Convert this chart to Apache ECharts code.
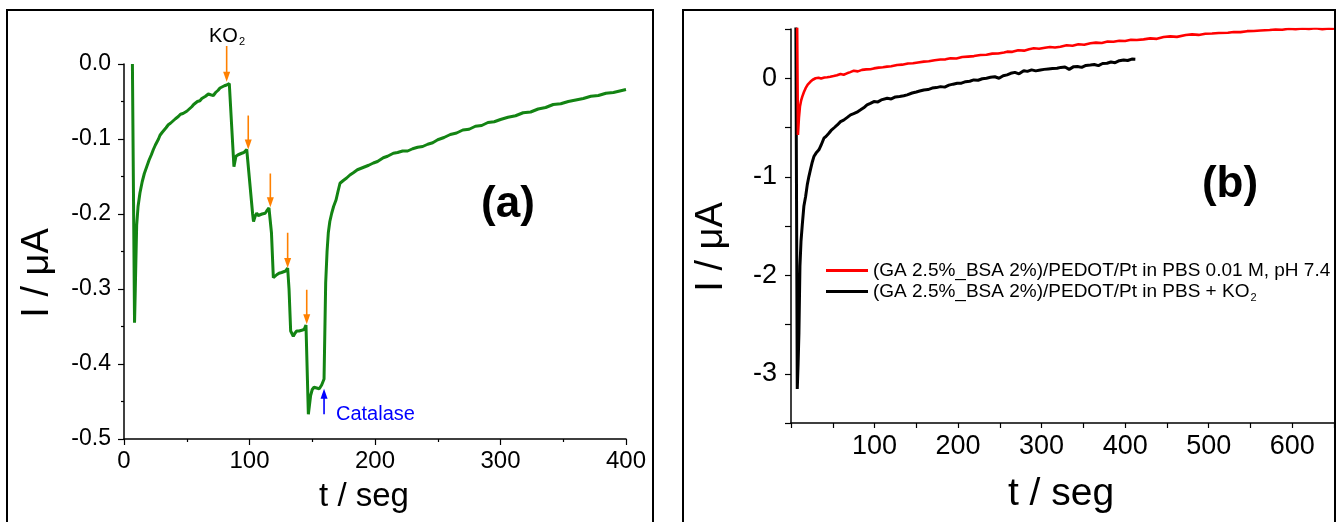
<!DOCTYPE html>
<html>
<head>
<meta charset="utf-8">
<script src="https://cdn.jsdelivr.net/npm/echarts@6/dist/echarts.min.js"></script>
<style>
html,body{margin:0;padding:0;background:#fff;}
#c{width:1337px;height:522px;}
</style>
</head>
<body>
<div id="c"></div>
<script>
// ---------- Panel (a) data ----------
const tA = [6.7, 8.4, 9.0, 9.5, 10.1, 11.2, 12.7, 14.5, 16.2, 18.1, 20, 21.8, 23.4, 25, 26, 27.5, 28.7, 30.5, 32, 33.5, 35.3, 37, 39, 41, 43.3, 45, 47, 48.5, 50, 52, 54, 55.5, 56.6, 58.5, 60.5, 62, 63.2, 65, 67.2, 69, 71.2, 73, 75, 76.5, 78, 80, 81.8, 83.9,
  87.6, 89.2, 91, 93.8, 95.5, 97.8, 99,
  102.5, 103.2, 104.5, 105.7, 107, 108.4, 110, 111, 112.5, 113.7, 115.5, 116.5,
  117.5, 119, 120.5, 121.7, 123.5, 125.6, 127, 128.8, 130.4,
  131.5, 132.8, 134.9, 136.2, 137.6, 139.5, 141.6, 143.5, 145,
  146.9, 148.7, 150, 151.4, 153.5, 155.6, 157.5, 159.4,
  160.7, 161.8, 162.8, 164, 165.5, 167, 169, 170.5, 172.1, 175, 177.4, 180, 182.7, 186, 189, 192, 195, 198.7, 202, 206.6, 210, 214.6, 218, 222, 226, 230, 234, 238, 242, 246, 250, 255, 260, 265, 270, 275, 280, 285, 290, 295, 300, 306, 312, 318, 324, 330, 336, 342, 348, 354, 360, 366, 372, 378, 384, 390, 395, 400];
const iA = [0.0, -0.345, -0.30, -0.26, -0.215, -0.190, -0.172, -0.157, -0.146, -0.137, -0.128, -0.121, -0.114, -0.108, -0.106, -0.100, -0.095, -0.091, -0.089, -0.085, -0.081, -0.079, -0.076, -0.073, -0.070, -0.067, -0.066, -0.064, -0.063, -0.060, -0.057, -0.054, -0.052, -0.050, -0.049, -0.046, -0.046, -0.043, -0.040, -0.041, -0.042, -0.038, -0.035, -0.032, -0.031, -0.029, -0.028, -0.026,
  -0.137, -0.123, -0.121, -0.119, -0.118, -0.114, -0.112,
  -0.200, -0.210, -0.203, -0.199, -0.202, -0.203, -0.200, -0.198, -0.199, -0.196, -0.192, -0.191,
  -0.225, -0.285, -0.283, -0.281, -0.279, -0.278, -0.279, -0.276, -0.272,
  -0.300, -0.356, -0.363, -0.359, -0.356, -0.356, -0.355, -0.354, -0.348,
  -0.467, -0.442, -0.434, -0.431, -0.432, -0.433, -0.428, -0.420,
  -0.292, -0.250, -0.225, -0.210, -0.199, -0.190, -0.181, -0.170, -0.159, -0.155, -0.152, -0.148, -0.145, -0.141, -0.139, -0.137, -0.135, -0.132, -0.130, -0.125, -0.123, -0.119, -0.118, -0.116, -0.116, -0.113, -0.111, -0.110, -0.107, -0.105, -0.101, -0.098, -0.094, -0.092, -0.088, -0.087, -0.083, -0.082, -0.078, -0.077, -0.074, -0.071, -0.069, -0.065, -0.064, -0.060, -0.058, -0.054, -0.053, -0.050, -0.048, -0.046, -0.043, -0.042, -0.039, -0.038, -0.036, -0.034];

// orange KO2 addition arrows
const arrowT    = [81.8, 99, 116.6, 130.4, 145.6];
const arrowFrom = [0.024, -0.0687, -0.146, -0.225, -0.301];
const arrowTo   = [-0.0235, -0.114, -0.191, -0.272, -0.347];
// blue catalase arrow
const catT = [159.4], catFrom = [-0.467], catTo = [-0.433];

const xTicksA = {min: 0, max: 400, interval: 100};
const yTicksA = {min: -0.5, max: 0, interval: 0.1};

// ---------- Panel (b) data ----------
const tR = [7.3, 8.3, 9.5, 10.7, 12, 13.5, 15.5, 17.5, 20, 23.4, 26, 29.4, 33, 36, 40, 43.4, 47, 51, 55, 59.3, 63, 67, 71, 75.2, 80, 85, 90, 95, 99.2, 105, 110, 115, 120, 127, 133, 140, 146, 152, 159, 165, 172, 179, 185, 191, 198, 205, 212, 219, 226.8, 234, 241, 248, 255, 258.7, 265, 272, 279, 285, 290.6, 297, 304, 310, 316, 322.5, 330, 337, 344, 351, 358.4, 365, 372, 379, 386, 393, 400, 407, 414, 422, 430, 438, 446, 454, 462, 472.6, 480, 488, 496, 504, 512, 523, 530, 538, 546, 554, 562, 573, 580, 588, 596, 604, 612, 620, 628, 636, 644, 650];
const iR = [0.6, -0.575, -0.40, -0.288, -0.23, -0.187, -0.14, -0.101, -0.065, -0.034, -0.015, 0.0, 0.005, -0.002, 0.008, 0.01, 0.015, 0.022, 0.03, 0.044, 0.035, 0.05, 0.062, 0.077, 0.07, 0.085, 0.09, 0.092, 0.10, 0.108, 0.112, 0.118, 0.122, 0.135, 0.138, 0.15, 0.152, 0.16, 0.169, 0.172, 0.183, 0.19, 0.192, 0.203, 0.2, 0.215, 0.22, 0.225, 0.236, 0.238, 0.25, 0.252, 0.262, 0.27, 0.268, 0.285, 0.28, 0.295, 0.304, 0.3, 0.31, 0.318, 0.312, 0.32, 0.335, 0.33, 0.345, 0.34, 0.355, 0.362, 0.358, 0.372, 0.371, 0.38, 0.378, 0.39, 0.388, 0.395, 0.405, 0.4, 0.418, 0.425, 0.42, 0.439, 0.445, 0.44, 0.452, 0.455, 0.46, 0.462, 0.47, 0.468, 0.478, 0.48, 0.485, 0.49, 0.495, 0.492, 0.503, 0.498, 0.505, 0.501, 0.508, 0.499, 0.506, 0.502];

const tK = [5.8, 7.5, 8.5, 9.5, 10.7, 12, 13.5, 15.4, 17.5, 19.5, 21.4, 23.5, 25.5, 27.4, 30, 33.4, 36, 39.4, 42, 45.3, 48, 52, 55.4, 57, 59.3, 63, 67, 71.3, 75, 79, 83.3, 87, 91, 95, 99.2, 104, 108, 115.2, 120, 125, 130, 135, 139.1, 145, 150, 154, 159, 164, 169, 174, 179, 184, 189, 194, 199, 204, 209, 214, 218.8, 224, 229, 234, 238.8, 244, 249, 254, 258.7, 263, 268, 273, 278.6, 283, 288, 293, 298.6, 303, 308, 313, 318.5, 323, 328, 333, 338.4, 343, 348, 353, 358.4, 363, 368, 373, 378.3, 383, 388, 393, 398.2, 403, 408, 412.2];
const iK = [0.6, -3.154, -2.9, -2.586, -1.91, -1.65, -1.488, -1.30, -1.20, -1.08, -0.998, -0.92, -0.85, -0.795, -0.76, -0.727, -0.68, -0.609, -0.59, -0.558, -0.53, -0.50, -0.474, -0.48, -0.44, -0.425, -0.40, -0.372, -0.36, -0.345, -0.321, -0.30, -0.27, -0.255, -0.237, -0.24, -0.22, -0.203, -0.21, -0.19, -0.185, -0.178, -0.169, -0.15, -0.14, -0.13, -0.119, -0.115, -0.1, -0.095, -0.085, -0.09, -0.07, -0.06, -0.051, -0.05, -0.035, -0.03, -0.017, -0.02, -0.005, 0.0, 0.01, 0.015, 0.0, 0.025, 0.034, 0.05, 0.06, 0.045, 0.077, 0.07, 0.085, 0.075, 0.084, 0.09, 0.095, 0.1, 0.101, 0.11, 0.115, 0.09, 0.118, 0.12, 0.11, 0.13, 0.135, 0.14, 0.128, 0.15, 0.152, 0.165, 0.158, 0.178, 0.186, 0.18, 0.195, 0.193];

const xTicksB = {min: 0, max: 650, interval: 50};
const yTicksB = {min: -3.5, max: 0.5, interval: 0.5};

const nameR = '(GA 2.5%_BSA 2%)/PEDOT/Pt in PBS 0.01 M, pH 7.4';
const nameK = '(GA 2.5%_BSA 2%)/PEDOT/Pt in PBS + KO2';

// ---------- chart ----------
const FONT = '"Liberation Sans", Arial, sans-serif';
const zip = (a, b) => a.map((v, i) => [v, b[i]]);
const arrowData = (t, f, to) => t.map((v, i) => [v, f[i], to[i]]);

function axisCommon() {
  return {
    axisLine: {show: true, onZero: false, lineStyle: {color: '#000', width: 1.5}},
    axisTick: {show: true, inside: false, length: 6, lineStyle: {color: '#000', width: 1.2}},
    splitLine: {show: false},
    minorSplitLine: {show: false}
  };
}

function arrowRender(color) {
  return function (params, api) {
    const x = api.value(0), y0 = api.value(1), y1 = api.value(2);
    const p0 = api.coord([x, y0]);
    const p1 = api.coord([x, y1]);
    const dir = p1[1] > p0[1] ? 1 : -1;
    const head = 10, hw = 3.5;
    return {
      type: 'group',
      children: [
        {type: 'line', shape: {x1: p0[0], y1: p0[1], x2: p1[0], y2: p1[1] - dir * head * 0.7},
         style: {stroke: color, lineWidth: 1.6}},
        {type: 'polygon', shape: {points: [[p1[0] - hw, p1[1] - dir * head], [p1[0] + hw, p1[1] - dir * head], [p1[0], p1[1]]]},
         style: {fill: color}}
      ]
    };
  };
}

const chart = echarts.init(document.getElementById('c'), null, {renderer: 'canvas'});
const xa0 = axisCommon(), ya0 = axisCommon(), xa1 = axisCommon(), ya1 = axisCommon();

chart.setOption({
  animation: false,
  backgroundColor: '#fff',
  textStyle: {fontFamily: FONT},
  grid: [
    {left: 124, right: 711, top: 64, bottom: 83},
    {left: 791, right: 3, top: 29, bottom: 99}
  ],
  xAxis: [
    Object.assign(xa0, {
      gridIndex: 0, type: 'value', min: xTicksA.min, max: xTicksA.max, interval: xTicksA.interval,
      minorTick: {show: true, splitNumber: 2, length: 3, lineStyle: {color: '#000', width: 1.2}},
      axisLabel: {fontSize: 24, color: '#000', margin: 10, fontFamily: FONT}
    }),
    Object.assign(xa1, {
      gridIndex: 1, type: 'value', min: xTicksB.min, max: xTicksB.max, interval: xTicksB.interval,
      axisTick: {show: true, length: 5, lineStyle: {color: '#000', width: 1.2}},
      axisLabel: {fontSize: 27, color: '#000', margin: 10, fontFamily: FONT,
        formatter: v => (v > 0 && v % 100 === 0 && v < 650) ? String(v) : ''}
    })
  ],
  yAxis: [
    Object.assign(ya0, {
      gridIndex: 0, type: 'value', min: yTicksA.min, max: yTicksA.max, interval: yTicksA.interval,
      minorTick: {show: true, splitNumber: 2, length: 3, lineStyle: {color: '#000', width: 1.2}},
      axisLabel: {fontSize: 23, color: '#000', margin: 13, fontFamily: FONT,
        formatter: v => (Math.abs(v) < 1e-9 ? 0 : v).toFixed(1)}
    }),
    Object.assign(ya1, {
      gridIndex: 1, type: 'value', min: yTicksB.min, max: yTicksB.max, interval: yTicksB.interval,
      axisTick: {show: true, length: 6, lineStyle: {color: '#000', width: 1.2}},
      axisLabel: {fontSize: 27, color: '#000', margin: 14, fontFamily: FONT,
        formatter: v => (Math.abs(v - Math.round(v)) < 1e-9 && v > -3.4 && v < 0.4) ? String(Math.round(v)) : ''}
    })
  ],
  legend: {
    orient: 'vertical', left: 821, top: 256, itemGap: 0,
    itemWidth: 42, itemHeight: 3, icon: 'rect',
    data: [nameR, nameK],
    formatter: function (name) {
      if (name === nameK) return '{m|(GA 2.5%_BSA 2%)/PEDOT/Pt in PBS + KO}{s|2}';
      return '{m|' + name + '}';
    },
    textStyle: {
      fontFamily: FONT, color: '#000',
      rich: {
        m: {fontSize: 19, lineHeight: 24, fontFamily: FONT, color: '#000'},
        s: {fontSize: 11, lineHeight: 24, fontFamily: FONT, color: '#000', padding: [12, 0, 0, 1]}
      }
    }
  },
  series: [
    {type: 'line', name: 'a', xAxisIndex: 0, yAxisIndex: 0, data: zip(tA, iA), showSymbol: false,
     lineStyle: {color: '#138413', width: 3}, itemStyle: {color: '#138413'}},
    {type: 'custom', xAxisIndex: 0, yAxisIndex: 0, data: arrowData(arrowT, arrowFrom, arrowTo),
     renderItem: arrowRender('#ff8000'), clip: false, z: 5},
    {type: 'custom', xAxisIndex: 0, yAxisIndex: 0, data: arrowData(catT, catFrom, catTo),
     renderItem: arrowRender('#0000ff'), clip: false, z: 5},
    {type: 'line', name: nameK, xAxisIndex: 1, yAxisIndex: 1, data: zip(tK, iK), showSymbol: false,
     lineStyle: {color: '#000', width: 3}, itemStyle: {color: '#000'}},
    {type: 'line', name: nameR, xAxisIndex: 1, yAxisIndex: 1, data: zip(tR, iR), showSymbol: false,
     lineStyle: {color: '#ff0000', width: 2.6}, itemStyle: {color: '#ff0000'}}
  ],
  graphic: [
    {type: 'rect', shape: {x: 7, y: 10, width: 646, height: 600}, style: {fill: 'none', stroke: '#000', lineWidth: 2}, silent: true},
    {type: 'rect', shape: {x: 683, y: 10, width: 652, height: 600}, style: {fill: 'none', stroke: '#000', lineWidth: 2}, silent: true},
    {type: 'text', x: 227, y: 36, style: {text: '{k|KO}{s|2}', align: 'center', verticalAlign: 'middle',
      rich: {k: {fontSize: 20, fontFamily: FONT, fill: '#000'}, s: {fontSize: 11, fontFamily: FONT, fill: '#000', padding: [11, 0, 0, 1]}}}},
    {type: 'text', x: 336, y: 414, style: {text: 'Catalase', fontSize: 20, fontFamily: FONT, fill: '#0000ff', align: 'left', verticalAlign: 'middle'}},
    {type: 'text', x: 508, y: 205, style: {text: '(a)', fontSize: 44, fontWeight: 'bold', fontFamily: FONT, fill: '#000', align: 'center', verticalAlign: 'middle'}},
    {type: 'text', x: 1230, y: 185, style: {text: '(b)', fontSize: 44, fontWeight: 'bold', fontFamily: FONT, fill: '#000', align: 'center', verticalAlign: 'middle'}},
    {type: 'text', x: 364, y: 497, style: {text: 't / seg', fontSize: 33, fontFamily: FONT, fill: '#000', align: 'center', verticalAlign: 'middle'}},
    {type: 'text', x: 1061, y: 494, style: {text: 't / seg', fontSize: 39, fontFamily: FONT, fill: '#000', align: 'center', verticalAlign: 'middle'}},
    {type: 'text', x: 38, y: 273, rotation: Math.PI / 2, style: {text: 'I / μA', fontSize: 38, fontFamily: FONT, fill: '#000', align: 'center', verticalAlign: 'middle'}},
    {type: 'text', x: 712, y: 247, rotation: Math.PI / 2, style: {text: 'I / μA', fontSize: 38, fontFamily: FONT, fill: '#000', align: 'center', verticalAlign: 'middle'}}
  ]
});
</script>
</body>
</html>
